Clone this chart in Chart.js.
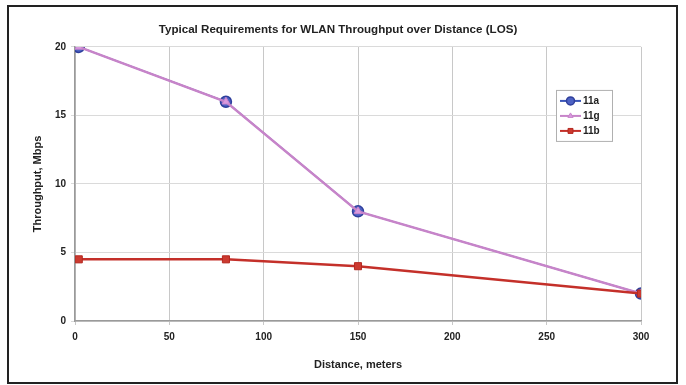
<!DOCTYPE html>
<html>
<head>
<meta charset="utf-8">
<script src="https://cdn.jsdelivr.net/npm/chart.js@4/dist/chart.umd.min.js"></script>
<style>
  html, body { margin: 0; padding: 0; background: #fff; }
  #wrap { position: relative; width: 686px; height: 385px; }
  #frame {
    position: absolute; left: 7px; top: 5px; width: 671px; height: 379px;
    border: 2px solid #222; box-sizing: border-box; pointer-events: none;
  }
  canvas { position: absolute; left: 0; top: 0; }
</style>
</head>
<body>
<div id="wrap">
  <canvas id="c" width="686" height="385"></canvas>
  <div id="frame"></div>
</div>
<script>
// Distance (m) and throughput (Mbps) per standard
const distances = [2, 80, 150, 300];
const series11a = [20, 16, 8, 2];
const series11g = [20, 16, 8, 2];
const series11b = [4.5, 4.5, 4, 2];
const seriesNames = ['11a', '11g', '11b'];
const xTicks = [0, 50, 100, 150, 200, 250, 300];
const yTicks = [0, 5, 10, 15, 20];

const FONT = '"Liberation Sans", Arial, sans-serif';
const toPoints = (ys) => distances.map((x, i) => ({ x, y: ys[i] }));

// Legend box drawn inside the plot area
const insideLegend = {
  id: 'insideLegend',
  afterDatasetsDraw(chart) {
    const { ctx, chartArea } = chart;
    const left = chartArea.right - 85, top = chartArea.top + 43;
    const w = 56, h = 51;
    ctx.save();
    ctx.fillStyle = '#fff';
    ctx.fillRect(left, top, w, h);
    ctx.strokeStyle = '#b0b0b0';
    ctx.lineWidth = 1;
    ctx.strokeRect(left + 0.5, top + 0.5, w, h);
    chart.data.datasets.forEach((ds, i) => {
      const y = top + 11 + i * 15;
      ctx.strokeStyle = ds.borderColor;
      ctx.lineWidth = 2;
      ctx.beginPath();
      ctx.moveTo(left + 4, y);
      ctx.lineTo(left + 25, y);
      ctx.stroke();
      ctx.fillStyle = ds.pointBackgroundColor;
      ctx.strokeStyle = ds.pointBorderColor;
      ctx.lineWidth = ds.pointBorderWidth;
      Chart.helpers.drawPoint(ctx, {
        pointStyle: ds.pointStyle,
        radius: ds.pointRadius - 1.5,
        borderWidth: ds.pointBorderWidth,
        rotation: 0
      }, left + 14.5, y);
      ctx.fillStyle = '#222';
      ctx.font = 'bold 10px ' + FONT;
      ctx.textBaseline = 'middle';
      ctx.textAlign = 'left';
      ctx.fillText(ds.label, left + 27, y + 0.5);
    });
    ctx.restore();
  }
};

new Chart(document.getElementById('c'), {
  type: 'line',
  data: {
    datasets: [
      {
        label: seriesNames[0], data: toPoints(series11a), order: 3,
        borderColor: '#3a55b8', borderWidth: 1.5,
        pointStyle: 'circle', pointRadius: 5.5,
        pointBackgroundColor: '#4d62c4', pointBorderColor: '#2f3f9c', pointBorderWidth: 1.5
      },
      {
        label: seriesNames[1], data: toPoints(series11g), order: 2,
        borderColor: '#c784c9', borderWidth: 2.5,
        pointStyle: 'triangle', pointRadius: 4.5,
        pointBackgroundColor: '#d99ade', pointBorderColor: '#c884cc', pointBorderWidth: 1
      },
      {
        label: seriesNames[2], data: toPoints(series11b), order: 1,
        borderColor: '#c4302a', borderWidth: 2.5,
        pointStyle: 'rect', pointRadius: 5,
        pointBackgroundColor: '#cc3a30', pointBorderColor: '#b52820', pointBorderWidth: 1
      }
    ]
  },
  options: {
    responsive: false,
    animation: false,
    devicePixelRatio: 1,
    layout: { padding: { left: 35, right: 45, top: 0, bottom: 0 } },
    plugins: {
      legend: { display: false },
      tooltip: { enabled: false },
      title: {
        display: true,
        text: 'Typical Requirements for WLAN Throughput over Distance (LOS)',
        color: '#222',
        font: { family: FONT, size: 11.6, weight: 'bold' },
        padding: { top: 23, bottom: 10 }
      }
    },
    scales: {
      x: {
        type: 'linear', min: 0, max: 300,
        afterBuildTicks: (s) => { s.ticks = xTicks.map(v => ({ value: v })); },
        afterFit: (s) => { s.height = 64; },
        ticks: { color: '#222', padding: 6, font: { family: FONT, size: 10, weight: 'bold' } },
        grid: { color: '#c8c8c8', lineWidth: 1, tickLength: 4 },
        border: { color: '#9a9a9a', width: 1.5 },
        title: {
          display: true, text: 'Distance, meters', color: '#222',
          font: { family: FONT, size: 11, weight: 'bold' },
          padding: { top: 0, bottom: 13 }
        }
      },
      y: {
        type: 'linear', min: 0, max: 20,
        afterBuildTicks: (s) => { s.ticks = yTicks.map(v => ({ value: v })); },
        afterFit: (s) => { s.width = 40; },
        ticks: { color: '#222', padding: 5, font: { family: FONT, size: 10, weight: 'bold' } },
        grid: { color: '#dadada', lineWidth: 1, tickLength: 4 },
        border: { color: '#9a9a9a', width: 1.5 },
        title: {
          display: true, text: 'Throughput, Mbps', color: '#222',
          font: { family: FONT, size: 11, weight: 'bold' },
          padding: { top: -4, bottom: 0 }
        }
      }
    }
  },
  plugins: [insideLegend]
});
</script>
</body>
</html>
